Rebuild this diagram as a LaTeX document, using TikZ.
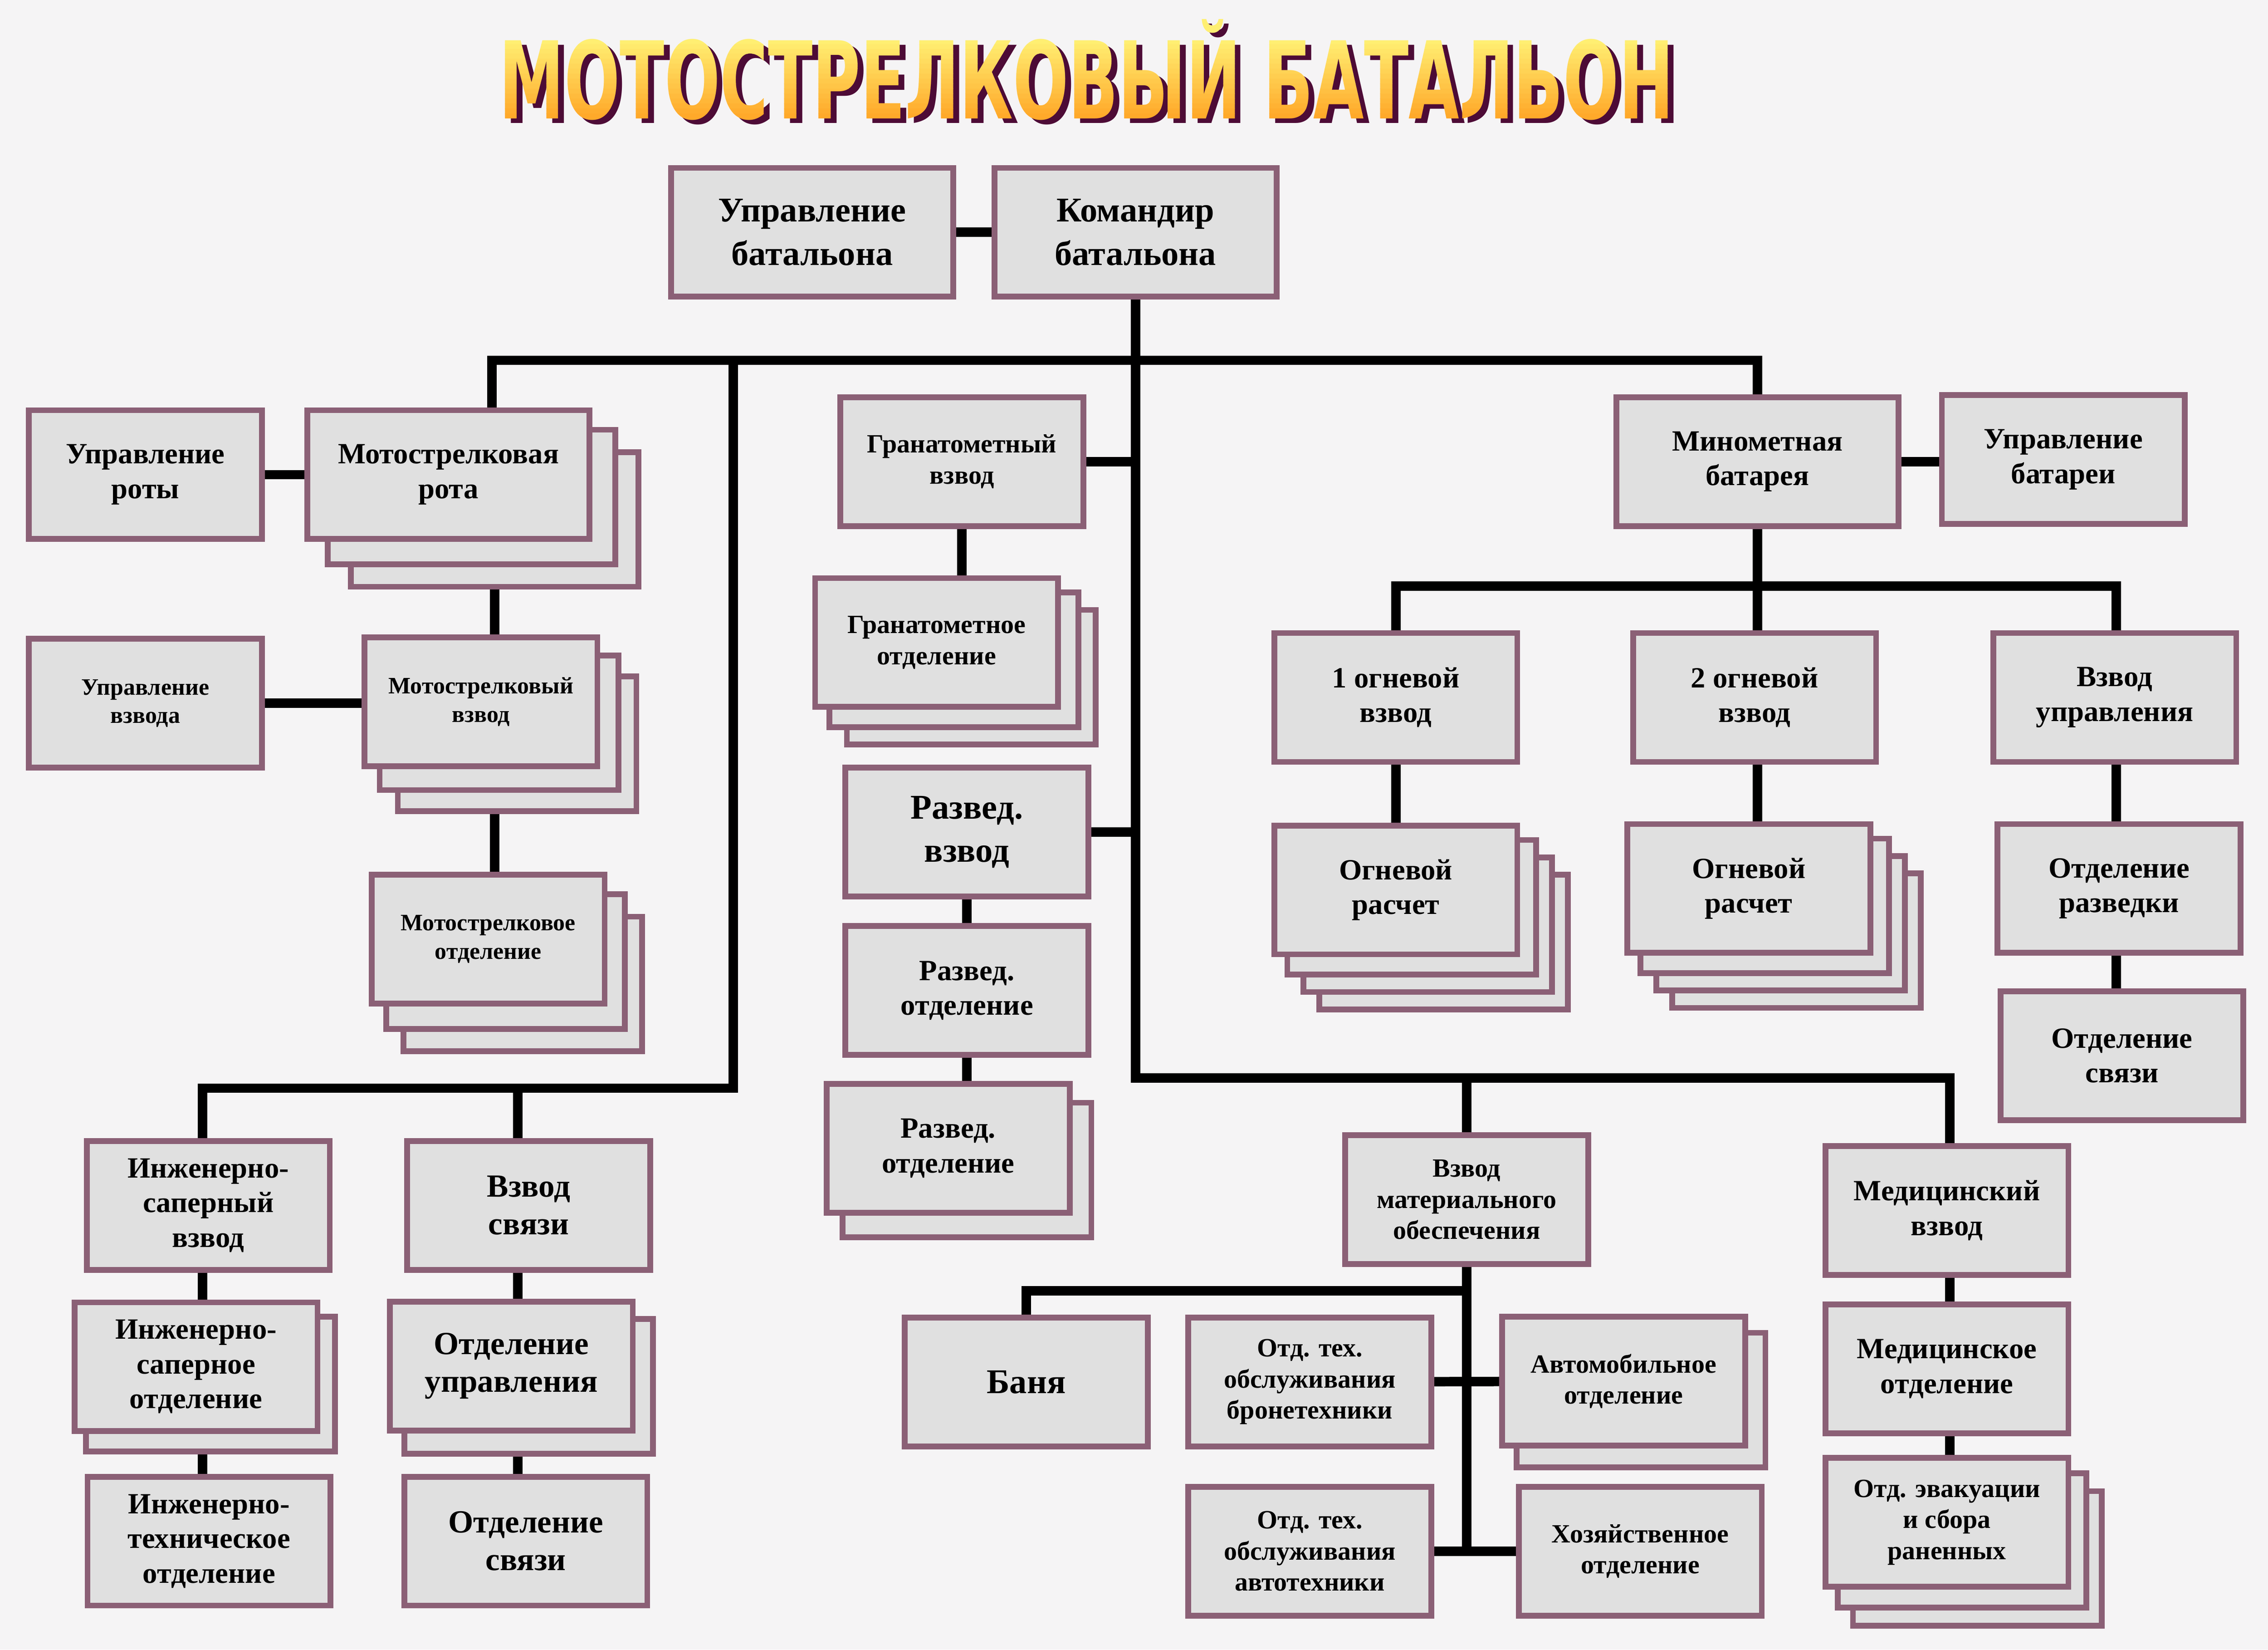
\documentclass[tikz,border=0pt]{standalone}
\usepackage{graphicx}
\usepackage{fontspec}
\setmainfont{Liberation Serif}
\newfontfamily\titlefont{DejaVu Sans}

\definecolor{paper}{HTML}{F5F4F5}
\definecolor{boxfill}{HTML}{E0E0E0}
\definecolor{boxline}{HTML}{8B6076}
\definecolor{titletop}{HTML}{FFEF72}
\definecolor{titlebot}{HTML}{FFA92A}
\definecolor{titleshade}{HTML}{4D0B36}

\pgfdeclarelayer{bg}
\pgfdeclarelayer{back}
\pgfsetlayers{bg,back,main}

\tikzset{
  box/.style={draw=boxline, fill=boxfill, line width=4pt, align=center,
    inner sep=2pt, minimum width=168pt, minimum height=89pt},
  wbox/.style={minimum width=195pt},
  sbox/.style={minimum width=161pt},
  txtbig/.style={font=\bfseries\fontsize{24}{30}\selectfont},
  txtlarge/.style={font=\bfseries\fontsize{22.3}{26}\selectfont},
  txtmid/.style={font=\bfseries\fontsize{20.3}{24}\selectfont},
  txtsmall/.style={font=\bfseries\fontsize{18.2}{21.5}\selectfont},
  txttiny/.style={font=\bfseries\fontsize{16.3}{19.5}\selectfont},
  link/.style={line width=6.5pt},
  heading/.style={anchor=base west, inner sep=0pt},
}

% stack of sheets behind a box: node, count, dx, dy
\newcommand\sheets[4]{%
  \foreach \k in {#2,...,1}
    \draw[box] ([shift={(\k*#3,\k*#4)}]#1.south west) rectangle ([shift={(\k*#3,\k*#4)}]#1.north east);
}
\newcommand\titletext{\resizebox{812pt}{55pt}{\titlefont\bfseries МОТОСТРЕЛКОВЫ\smash{Й} БАТАЛЬОН}}

\begin{document}
\begin{tikzpicture}[x=1pt,y=-1pt]
\useasboundingbox (0,0) rectangle (1568,1140);
\begin{pgfonlayer}{bg}
  \fill[paper] (0,0) rectangle (1568,1140);
\end{pgfonlayer}

% title: shadow, then yellow to orange in bands
\node[heading, text=titleshade] (titleshadow) at (349,85) {\titletext};
\foreach \i in {0,...,15} {
  \pgfmathsetmacro\ya{\i==0 ? 0 : 27+55*\i/16}
  \pgfmathsetmacro\yb{\i==15 ? 120 : 27+55*(\i+1)/16}
  \pgfmathtruncatemacro\pct{100-100*\i/15}
  \begin{scope}
    \clip (0,\ya) rectangle (1568,\yb);
    \node[heading, text=titletop!\pct!titlebot] (title\i) at (345,82) {\titletext};
  \end{scope}
}

% battalion
\node[box, wbox, txtbig] (ub) at (561.5,160.5) {Управление\\батальона};
\node[box, wbox, txtbig] (kb) at (785,160.5) {Командир\\батальона};

% motor rifle company
\node[box, sbox, txtmid] (ur) at (100.5,328) {Управление\\роты};
\node[box, wbox, txtmid] (mr) at (310,328) {Мотострелковая\\рота};
\node[box, sbox, txttiny] (uv) at (100.5,486) {Управление\\взвода};
\node[box, sbox, txttiny] (msv) at (332.5,485) {Мотострелковый\\взвод};
\node[box, sbox, txttiny] (mso) at (337.5,649) {Мотострелковое\\отделение};

% engineers and signals
\node[box, txtmid] (isv) at (144,833) {Инженерно-\\саперный\\взвод};
\node[box, txtlarge] (vs) at (365.5,833) {Взвод\\связи};
\node[box, txtmid] (iso) at (135.5,944.5) {Инженерно-\\саперное\\отделение};
\node[box, txtlarge] (ou) at (353.5,944) {Отделение\\управления};
\node[box, txtmid] (ito) at (144.5,1065) {Инженерно-\\техническое\\отделение};
\node[box, txtlarge] (os1) at (363.5,1065) {Отделение\\связи};

% grenade launchers and recon
\node[box, txtsmall] (gv) at (665,319) {Гранатометный\\взвод};
\node[box, txtsmall] (go) at (647.5,444) {Гранатометное\\отделение};
\node[box, txtbig] (rv) at (668.5,575) {Развед.\\взвод};
\node[box, txtmid] (ro1) at (668.5,684.5) {Развед.\\отделение};
\node[box, txtmid] (ro2) at (655.5,793.5) {Развед.\\отделение};

% mortar battery
\node[box, wbox, txtmid] (mb) at (1215,319) {Минометная\\батарея};
\node[box, txtmid] (ubat) at (1426.5,317.5) {Управление\\батареи};
\node[box, txtmid] (ov1) at (965,482) {1 огневой\\взвод};
\node[box, txtmid] (ov2) at (1213,482) {2 огневой\\взвод};
\node[box, txtmid] (vu) at (1462,482) {Взвод\\управления};
\node[box, txtmid] (or1) at (965,615) {Огневой\\расчет};
\node[box, txtmid] (or2) at (1209,614) {Огневой\\расчет};
\node[box, txtmid] (odr) at (1465,614) {Отделение\\разведки};
\node[box, txtmid] (os2) at (1467,729.5) {Отделение\\связи};

% support
\node[box, txtsmall] (vmo) at (1014,829) {Взвод\\материального\\обеспечения};
\node[box, txtbig] (banya) at (709.5,955) {Баня};
\node[box, txtsmall] (otb) at (905.5,955) {Отд. тех.\\обслуживания\\бронетехники};
\node[box, txtsmall] (ao) at (1122.5,954.5) {Автомобильное\\отделение};
\node[box, txtsmall] (ota) at (905.5,1072) {Отд. тех.\\обслуживания\\автотехники};
\node[box, txtsmall] (ho) at (1134,1072) {Хозяйственное\\отделение};

% medical
\node[box, txtmid] (medv) at (1346,836.5) {Медицинский\\взвод};
\node[box, txtmid] (medo) at (1346,946) {Медицинское\\отделение};
\node[box, txtsmall] (oes) at (1346,1052) {Отд. эвакуации\\и сбора\\раненных};

\begin{pgfonlayer}{back}
  \sheets{mr}{2}{16}{15.5}
  \sheets{msv}{2}{12.5}{14.5}
  \sheets{mso}{2}{12}{15.5}
  \sheets{iso}{1}{10}{12}
  \sheets{ou}{1}{12}{14}
  \sheets{go}{2}{12}{12}
  \sheets{ro2}{1}{13}{15}
  \sheets{or1}{3}{11}{12}
  \sheets{or2}{3}{11}{12}
  \sheets{ao}{1}{12}{13}
  \sheets{oes}{2}{10.5}{12.5}
\end{pgfonlayer}

% connectors
\coordinate (topL) at (340,249);
\coordinate (topM) at (507,249);
\coordinate (topR) at (1215,249);
\coordinate (msx) at (342,400);
\coordinate (engM) at (507,752);
\coordinate (engL) at (140,752);
\coordinate (engR) at (358,752);
\coordinate (fireL) at (965,405);
\coordinate (fireR) at (1463,405);
\coordinate (lowL) at (785,745);
\coordinate (lowR) at (1348,745);
\coordinate (busB) at (1014,892);
\begin{pgfonlayer}{bg}
  \draw[link] (ub) -- (kb);
  \draw[link] (kb) -- (kb |- lowL) -- (lowR) -- (lowR |- oes);
  \draw[link] (topL |- mr) -- (topL) -- (topR) -- (topR |- or2);
  \draw[link] (mb.east) -- (mb.east -| ubat.west);
  \draw[link] (fireL |- or1) -- (fireL) -- (fireR) -- (fireR |- os2);
  \draw[link] (ur) -- (mr);
  \draw[link] (msx |- mr) -- (msx |- mso);
  \draw[link] (uv) -- (uv -| msv);
  \draw[link] (topM) -- (engM) -- (engL) -- (engL |- ito);
  \draw[link] (engR) -- (engR |- os1);
  \draw[link] (gv) -- (gv -| kb);
  \draw[link] (gv) -- (gv |- go);
  \draw[link] (rv) -- (rv -| kb);
  \draw[link] (rv) -- (rv |- ro2);
  \draw[link] (vmo |- lowL) -- (vmo |- ho);
  \draw[link] (banya) |- (busB);
  \draw[link] (otb) -- (ao);
  \draw[link] (ota) -- (ho);
\end{pgfonlayer}
\end{tikzpicture}
\end{document}
